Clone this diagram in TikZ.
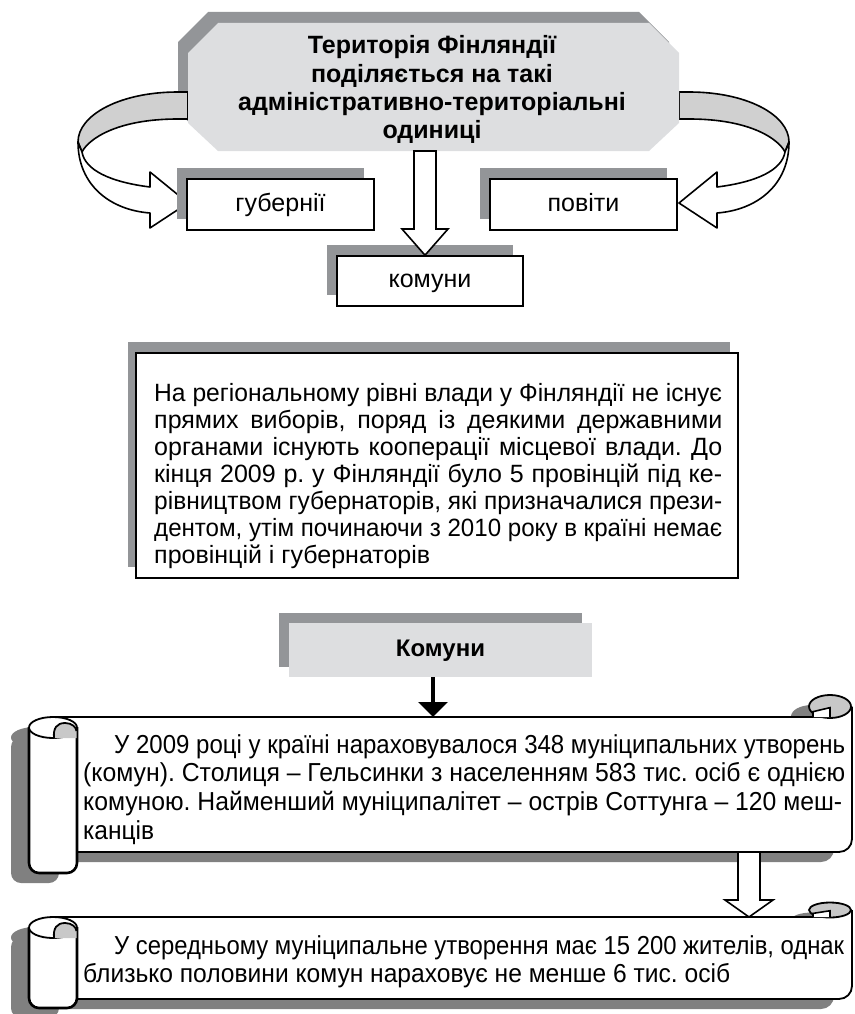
\documentclass[tikz,border=0pt]{standalone}
\usepackage{fontspec}
\setmainfont{Liberation Sans}
\usetikzlibrary{arrows.meta,shadows,calc}
\definecolor{lite}{HTML}{DDDEE0}
\definecolor{shad}{HTML}{939598}
\definecolor{bandg}{HTML}{D0D0D0}
\definecolor{scsh}{HTML}{808080}
\definecolor{curlg}{HTML}{C8C8C8}
\frenchspacing
\newlength\jlw
\newsavebox\jlbox
\newcommand\jl[2]{\setlength\jlw{#1}\sbox\jlbox{#2}\ifdim\wd\jlbox>\jlw\pgfmathsetmacro\jlsc{\the\jlw/\the\wd\jlbox}\scalebox{\jlsc}[1]{\usebox\jlbox}\else\makebox[\jlw][s]{#2}\fi}
\tikzset{
  txt/.style={anchor=base west, inner sep=0pt, font=\fontsize{25}{29}\selectfont},
  stxt/.style={anchor=base west, inner sep=0pt, font=\fontsize{26}{29}\selectfont},
  otxt/.style={anchor=base, inner sep=0pt, font=\fontsize{25}{28}\selectfont\bfseries},
  lbox/.style={draw, line width=1.6pt, fill=white, inner sep=0pt, minimum width=187pt,
    minimum height=51pt, text height=18pt, text depth=5pt, font=\fontsize{25}{30}\selectfont,
    drop shadow={shadow xshift=-10pt, shadow yshift=11pt, fill=shad, opacity=1}},
  hollow/.style={draw, fill=white, line width=1.6pt, line join=miter},
  bandline/.style={draw, line width=1.6pt, line join=round},
}
\def\octpath{(218,23) -- (649,23) -- (679,53) -- (679,123) -- (649,151) -- (218,151) -- (188,123) -- (188,53) -- cycle}
\newcommand\bandshapes{%
  \path[bandline, fill=bandg] (188,92) -- (178,92) .. controls (120,92) and (78,115) .. (78,142)
     -- (82,152) .. controls (88,140) and (115,119) .. (178,119) -- (188,119) -- cycle;
  \path[bandline, fill=white] (78,142) .. controls (78,185) and (110,210) .. (150,213)
     -- (150,228) -- (188,203) -- (150,172) -- (150,187)
     .. controls (110,182) and (85,170) .. (82,152) -- cycle;}
% #1 top, #2 bottom, #3 roll bottom, #4 curl centre y, #5 curl y radius
\newcommand\myscroll[5]{%
  \begin{scope}[shift={(-18,10)}]
    \fill[scsh] (53,#1) -- (852,#1) -- (852,#2-13) arc[start angle=0,end angle=-90,radius=13pt] -- (53,#2) -- cycle;
    \fill[scsh,rounded corners=10pt] (29,#1+10) -- (29,#3) -- (77,#3) -- (77,#1+10) -- cycle;
    \fill[scsh] (53,#1+10.5) ellipse [x radius=24, y radius=10.5];
    \fill[scsh] (830,#4) ellipse [x radius=21, y radius=#5];
  \end{scope}
  \fill[white] (53,#1) -- (852,#1) -- (852,#2-13) arc[start angle=0,end angle=-90,radius=13pt] -- (53,#2) -- cycle;
  \draw[line width=1.8pt] (53,#1) -- (830,#1);
  \draw[line width=1.8pt] (852,#4) -- (852,#2-13) arc[start angle=0,end angle=-90,radius=13pt] -- (77,#2);
  \filldraw[fill=curlg, line width=1.8pt] (830,#4) ellipse [x radius=21, y radius=#5];
  \filldraw[fill=white, line width=1.6pt] (813,#1) -- (813,{#4+0.45*#5}) -- (825,{#4+0.2*#5}) -- (830,{#4+0.1*#5}) -- (830,#1);
  \filldraw[fill=white, line width=2.6pt, rounded corners=10pt] (29,#1+10) -- (29,#3) -- (77,#3) -- (77,#1+10);
  \filldraw[fill=white, line width=1.8pt] (53,#1+10.5) ellipse [x radius=24, y radius=10.5];
  \fill[curlg] (54,#1+21) .. controls (53,#1+11) and (57,#1+6) .. (65,#1+6)
     .. controls (72,#1+6) and (76,#1+10) .. (76.5,#1+14) -- (76.5,#1+21) -- cycle;
  \draw[line width=1.8pt] (54,#1+21) .. controls (53,#1+11) and (57,#1+6) .. (65,#1+6)
     .. controls (72,#1+6) and (76,#1+10) .. (76.5,#1+14);
}
\begin{document}
\begin{tikzpicture}[x=1pt,y=-1pt]
\useasboundingbox (0,0) rectangle (854,1014);
% ---------- top octagon ----------
\fill[shad, shift={(-10,-11)}] \octpath;
\bandshapes
\begin{scope}[xshift=867pt, xscale=-1]
  \bandshapes
\end{scope}
\fill[lite] \octpath;
\node[otxt] (o1) at (432,54) {Територія Фінляндії};
\node[otxt] (o2) at (432,82.2) {поділяється на такі};
\node[otxt] (o3) at (432,110.4) {адміністративно-територіальні};
\node[otxt] (o4) at (432,138.6) {одиниці};
\coordinate (octbot) at (425,151);
% ---------- boxes ----------
\node[lbox] (gub) at (280.5,204.5) {губернії};
\node[lbox] (pov) at (583.5,204.5) {повіти};
\node[lbox, minimum width=186pt, minimum height=50pt] (kmn) at (430,281) {комуни};
\path[hollow] ($(octbot)+(-11,0)$) -- ($(octbot)+(-11,78)$) -- ($(octbot)+(-23,78)$)
  -- (kmn.north -| octbot) -- ($(octbot)+(23,78)$) -- ($(octbot)+(11,78)$) -- ($(octbot)+(11,0)$) -- cycle;
% ---------- paragraph box ----------
\node[draw, line width=2pt, fill=white, inner sep=0pt, minimum width=602pt, minimum height=225pt,
  drop shadow={shadow xshift=-8pt, shadow yshift=11pt, fill=shad, opacity=1}] (para) at (437,465.5) {};
\node[txt] (p1) at (154,401.7) {\jl{568pt}{На регіональному рівні влади у Фінляндії не існує}};
\node[txt] (p2) at (154,428.6) {\jl{568pt}{прямих виборів, поряд із деякими державними}};
\node[txt] (p3) at (154,455.5) {\jl{568pt}{органами існують кооперації місцевої влади. До}};
\node[txt] (p4) at (154,482.4) {\jl{568pt}{кінця 2009 р. у Фінляндії було 5 провінцій під ке-}};
\node[txt] (p5) at (154,509.3) {\jl{568pt}{рівництвом губернаторів, які призначалися прези-}};
\node[txt] (p6) at (154,536.2) {\jl{568pt}{дентом, утім починаючи з 2010 року в країні немає}};
\node[txt] (p7) at (154,563.1) {провінцій і губернаторів};
% ---------- Комуни ----------
\node[fill=lite, inner sep=0pt, minimum width=303pt, minimum height=54pt, text height=18pt, text depth=5pt,
  font=\fontsize{24}{28}\selectfont\bfseries,
  drop shadow={shadow xshift=-10pt, shadow yshift=10pt, fill=shad, opacity=1}] (kom) at (440.5,650) {Комуни};
% ---------- scrolls ----------
\myscroll{717}{852}{873}{706.5}{11.5}
\coordinate (s1top) at (433,717);
\draw[line width=3.5pt, -{Triangle[width=29pt,length=15pt]}] (kom.south -| s1top) -- (s1top);
\node[stxt] (a1) at (114,753) {\jl{731pt}{У 2009 році у країні нараховувалося 348 муніципальних утворень}};
\node[stxt] (a2) at (83,781.7) {\jl{762pt}{(комун). Столиця – Гельсинки з населенням 583 тис. осіб є однією}};
\node[stxt] (a3) at (83,810.4) {\jl{759pt}{комуною. Найменший муніципалітет – острів Соттунга – 120 меш-}};
\node[stxt] (a4) at (83,839) {\jl{71pt}{канців}};
\myscroll{917}{999}{1008}{910}{7.5}
\coordinate (s1bot) at (749,852);
\coordinate (s2top) at (749,917);
\path[hollow] ($(s1bot)+(-11,0)$) -- ($(s1bot)+(-11,48)$) -- ($(s1bot)+(-24,48)$) -- (s2top)
  -- ($(s1bot)+(24,48)$) -- ($(s1bot)+(11,48)$) -- ($(s1bot)+(11,0)$) -- cycle;
\node[stxt] (b1) at (114,954) {\jl{730pt}{У середньому муніципальне утворення має 15 200 жителів, однак}};
\node[stxt] (b2) at (83,982.5) {\jl{647pt}{близько половини комун нараховує не менше 6 тис. осіб}};
\end{tikzpicture}
\end{document}
